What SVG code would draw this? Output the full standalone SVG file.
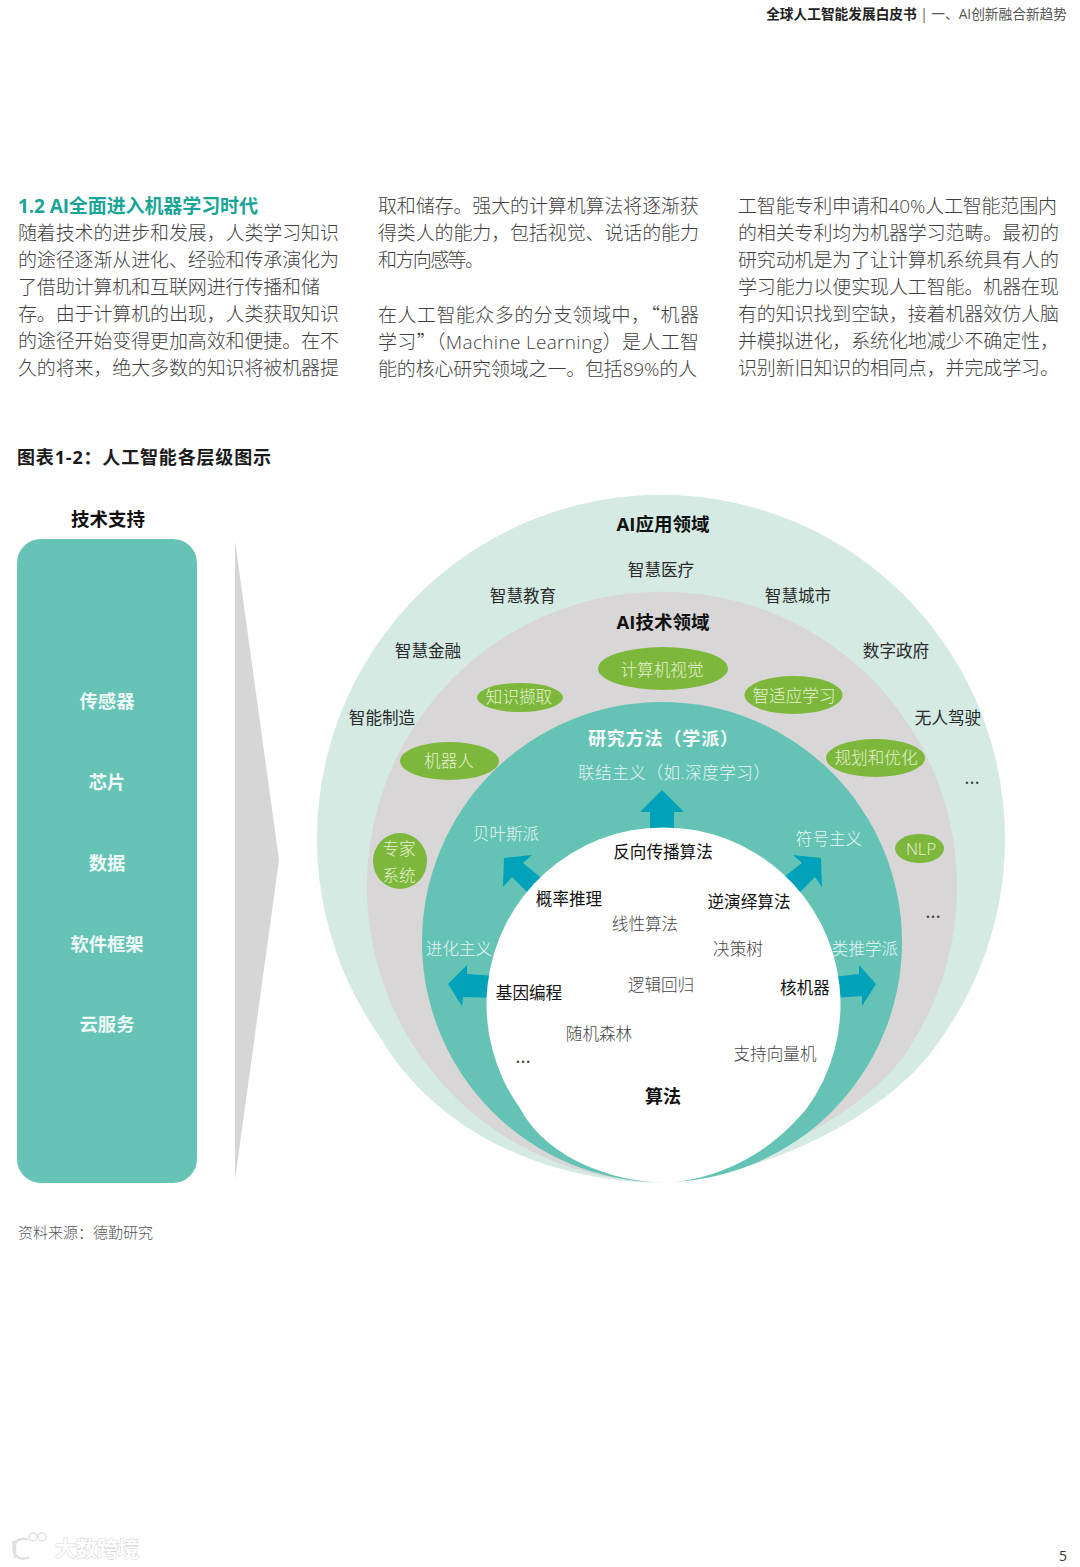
<svg xmlns="http://www.w3.org/2000/svg" width="1080" height="1567" viewBox="0 0 1080 1567">
<style>
text{font-family:"Open Sans","Noto Sans CJK SC",sans-serif}
.c{font-family:"Noto Sans CJK SC",sans-serif}
.b{font-size:19px;font-weight:300;fill:#3f3f3f}
.h{font-size:19px;font-weight:700;fill:#18a596}
.t{font-size:18px;font-weight:700;fill:#1a1a1a}
.d{font-size:16.6px;fill:#2b2b2b;text-anchor:middle}
.l{font-weight:300;fill:#444}
.m{font-size:20px;fill:#444;text-anchor:middle}
.k{font-size:18.5px;font-weight:700;fill:#111;text-anchor:middle}
.w{font-size:16.6px;font-weight:300;fill:#e6f6f2;text-anchor:middle}
.g{font-size:16.6px;font-weight:300;fill:#e6f2d2;text-anchor:middle}
.wb{font-size:18px;font-weight:700;fill:#f4fbf9}
.s{font-size:18.3px;font-weight:700;fill:#eef9f6;text-anchor:middle}
.e{fill:#7db83d}
.a{fill:#00a2b9}
</style>
<rect width="1080" height="1567" fill="#fff"/>
<g id="header">
<text x="1067" y="19" text-anchor="end" font-size="13.7" fill="#555"><tspan font-weight="700" fill="#222">全球人工智能发展白皮书</tspan> | 一、AI创新融合新趋势</text>
</g>
<g id="body">
<text class="h" x="18" y="213" textLength="240">1.2 AI全面进入机器学习时代</text>
<text class="b" x="18" y="240" textLength="321">随着技术的进步和发展，人类学习知识</text>
<text class="b" x="18" y="267" textLength="321">的途径逐渐从进化、经验和传承演化为</text>
<text class="b" x="18" y="294" textLength="302">了借助计算机和互联网进行传播和储</text>
<text class="b" x="18" y="321" textLength="321">存。由于计算机的出现，人类获取知识</text>
<text class="b" x="18" y="348" textLength="321">的途径开始变得更加高效和便捷。在不</text>
<text class="b" x="18" y="375" textLength="321">久的将来，绝大多数的知识将被机器提</text>
<text class="b" x="378" y="213" textLength="321">取和储存。强大的计算机算法将逐渐获</text>
<text class="b" x="378" y="240" textLength="321">得类人的能力，包括视觉、说话的能力</text>
<text class="b" x="378" y="267" textLength="106">和方向感等。</text>
<text class="b c" x="378" y="322" textLength="321">在人工智能众多的分支领域中，“机器</text>
<text class="b" x="378" y="349" textLength="321">学习<tspan class="c">”</tspan>（Machine Learning）是人工智</text>
<text class="b" x="378" y="376" textLength="319">能的核心研究领域之一。包括89%的人</text>
<text class="b" x="738" y="213" textLength="319">工智能专利申请和40%人工智能范围内</text>
<text class="b" x="738" y="240" textLength="321">的相关专利均为机器学习范畴。最初的</text>
<text class="b" x="738" y="267" textLength="321">研究动机是为了让计算机系统具有人的</text>
<text class="b" x="738" y="294" textLength="321">学习能力以便实现人工智能。机器在现</text>
<text class="b" x="738" y="321" textLength="321">有的知识找到空缺，接着机器效仿人脑</text>
<text class="b" x="738" y="348" textLength="321">并模拟进化，系统化地减少不确定性，</text>
<text class="b" x="738" y="375" textLength="321">识别新旧知识的相同点，并完成学习。</text>
</g>
<text id="fig-title" class="t" x="17" y="464" textLength="254">图表1-2：人工智能各层级图示</text>
<g id="tech-support">
<text class="k" x="108" y="526">技术支持</text>
<rect x="17" y="539" width="180" height="644" rx="24" fill="#65c4b6"/>
<text class="s" x="107" y="708">传感器</text>
<text class="s" x="107" y="789">芯片</text>
<text class="s" x="107" y="870">数据</text>
<text class="s" x="107" y="951">软件框架</text>
<text class="s" x="107" y="1031">云服务</text>
</g>
<polygon id="wedge" points="235,541 279,860 235,1180" fill="#d6d6d6"/>
<g id="ai-apps">
<path d="M382 1040A344 344 0 1 1 940 1040C905 1095 800 1170 661 1183C510 1180 420 1105 382 1040Z" fill="#d4eae3"/>
<text class="k" x="663" y="531">AI应用领域</text>
<text class="d" x="661" y="576">智慧医疗</text>
<text class="d" x="523" y="602">智慧教育</text>
<text class="d" x="798" y="602">智慧城市</text>
<text class="d" x="428" y="657">智慧金融</text>
<text class="d" x="896" y="657">数字政府</text>
<text class="d" x="382" y="724">智能制造</text>
<text class="d" x="948" y="724">无人驾驶</text>
<text class="m" x="972" y="784">…</text>
</g>
<g id="ai-tech">
<path d="M914 1040C885 1095 790 1160 662 1182A295 295 0 0 1 410 1040A295 295 0 1 1 914 1040Z" fill="#d8d6d6"/>
<text class="k" x="663" y="629">AI技术领域</text>
<text class="m" x="933" y="918">…</text>
</g>
<g id="n-cv"><ellipse class="e" cx="663" cy="668.500" rx="65" ry="21.500"/><text class="g" x="662" y="676">计算机视觉</text></g>
<g id="n-ke"><ellipse class="e" cx="520" cy="697.500" rx="43" ry="14.500"/><text class="g" x="519" y="703">知识撷取</text></g>
<g id="n-al"><ellipse class="e" cx="793.500" cy="695" rx="49" ry="19"/><text class="g" x="794" y="702">智适应学习</text></g>
<g id="n-rb"><ellipse class="e" cx="449.500" cy="761" rx="49.500" ry="19"/><text class="g" x="449" y="767">机器人</text></g>
<g id="n-po"><ellipse class="e" cx="875.500" cy="758" rx="49.500" ry="19"/><text class="g" x="876" y="764">规划和优化</text></g>
<g id="n-es"><ellipse class="e" cx="400" cy="861" rx="27" ry="28"/><text class="g" x="399" y="855">专家</text><text class="g" x="399" y="882">系统</text></g>
<g id="n-nlp"><ellipse class="e" cx="919.500" cy="848.500" rx="24.500" ry="14.500"/><text class="g" x="921" y="855">NLP</text></g>
<g id="methods">
<circle cx="662" cy="942" r="240" fill="#64c3b5"/>
<text class="wb" x="588" y="745" textLength="150">研究方法（学派）</text>
<text class="w" style="text-anchor:start" x="578" y="779" textLength="192">联结主义（如.深度学习）</text>
<text class="w" x="506" y="840">贝叶斯派</text>
<text class="w" x="829" y="845">符号主义</text>
<text class="w" x="459" y="955">进化主义</text>
<text class="w" x="865" y="955">类推学派</text>
</g>
<g id="connectors">
<polygon class="a" points="662,790 684,812 674,812 674,832 650,832 650,812 640,812"/>
<polygon class="a" points="504,858 532,855 523,863 545,881 532,897 512,877 503,887"/>
<polygon class="a" points="821,858 822,887 815,877 795,897 779,881 802,863 793,855"/>
<polygon class="a" points="448,984 467,965 467,974 495,976 495,998 463,997 462,1006"/>
<polygon class="a" points="876,984 859,965 859,974 832,977 832,998 862,996 862,1006"/>
</g>
<g id="algorithms">
<path d="M807 1108C785 1135 740 1178 664 1183C595 1180 540 1148 520 1108A177 177 0 1 1 807 1108Z" fill="#fff"/>
<text class="k" x="663" y="1103" style="font-size:18px">算法</text>
<text class="d" x="663" y="858" style="fill:#111">反向传播算法</text>
<text class="d" x="569" y="905" style="fill:#111">概率推理</text>
<text class="d" x="749" y="908" style="fill:#111">逆演绎算法</text>
<text class="d l" x="645" y="930">线性算法</text>
<text class="d l" x="738" y="955">决策树</text>
<text class="d l" x="661" y="991">逻辑回归</text>
<text class="d" x="529" y="999" style="fill:#111">基因编程</text>
<text class="d" x="805" y="994" style="fill:#111">核机器</text>
<text class="d l" x="599" y="1040">随机森林</text>
<text class="d l" x="775" y="1060">支持向量机</text>
<text class="m" x="523" y="1063">…</text>
</g>
<text id="source" x="18" y="1238" font-size="15" font-weight="300" fill="#555">资料来源：德勤研究</text>
<g id="watermark" fill="none" stroke="#e0e0e0">
<path d="M12 1543l3-1v16" stroke-width="2.500"/>
<path d="M28 1540a10 10 0 1 0 1 17" stroke-width="2.500"/>
<circle cx="33" cy="1537" r="4" stroke-width="1.500"/>
<circle cx="42" cy="1537" r="4" stroke-width="1.500"/>
<text x="55" y="1556" font-size="21" font-weight="700" fill="#fff" stroke="#d8d8d8" stroke-width="1.200" paint-order="stroke">大数跨境</text>
</g>
<text id="page" x="1059" y="1561" font-size="14" fill="#333">5</text>
</svg>
